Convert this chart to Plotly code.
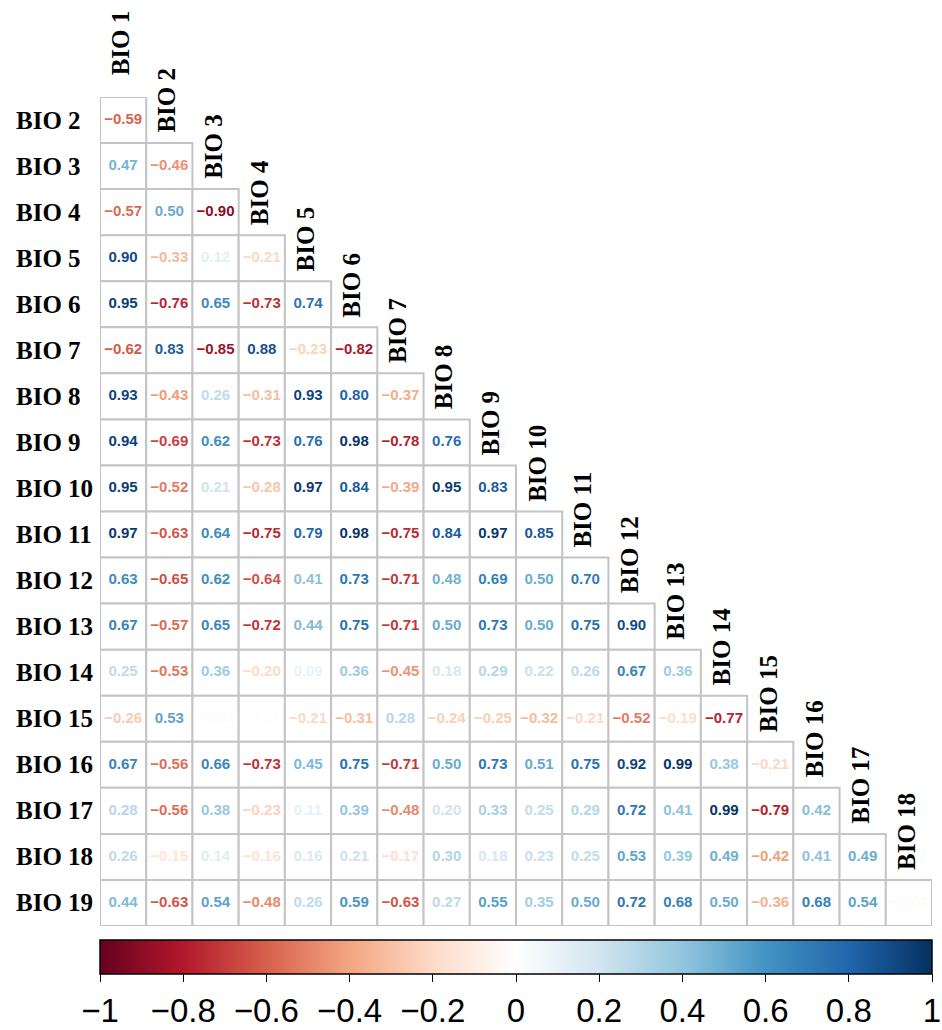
import plotly.graph_objects as go
from plotly.colors import sample_colorscale

# Bioclimatic variables
row_labels = [f"BIO {i}" for i in range(2, 20)]
col_labels = [f"BIO {i}" for i in range(1, 19)]

# Lower-triangle Pearson correlations (row BIO k vs BIO 1 .. BIO k-1)
corr_rows = [
    [-0.59],
    [0.47, -0.46],
    [-0.57, 0.50, -0.90],
    [0.90, -0.33, 0.12, -0.21],
    [0.95, -0.76, 0.65, -0.73, 0.74],
    [-0.62, 0.83, -0.85, 0.88, -0.23, -0.82],
    [0.93, -0.43, 0.26, -0.31, 0.93, 0.80, -0.37],
    [0.94, -0.69, 0.62, -0.73, 0.76, 0.98, -0.78, 0.76],
    [0.95, -0.52, 0.21, -0.28, 0.97, 0.84, -0.39, 0.95, 0.83],
    [0.97, -0.63, 0.64, -0.75, 0.79, 0.98, -0.75, 0.84, 0.97, 0.85],
    [0.63, -0.65, 0.62, -0.64, 0.41, 0.73, -0.71, 0.48, 0.69, 0.50, 0.70],
    [0.67, -0.57, 0.65, -0.72, 0.44, 0.75, -0.71, 0.50, 0.73, 0.50, 0.75, 0.90],
    [0.25, -0.53, 0.36, -0.20, 0.09, 0.36, -0.45, 0.18, 0.29, 0.22, 0.26, 0.67, 0.36],
    [-0.26, 0.53, -0.03, -0.01, -0.21, -0.31, 0.28, -0.24, -0.25, -0.32, -0.21, -0.52, -0.19, -0.77],
    [0.67, -0.56, 0.66, -0.73, 0.45, 0.75, -0.71, 0.50, 0.73, 0.51, 0.75, 0.92, 0.99, 0.38, -0.21],
    [0.28, -0.56, 0.38, -0.23, 0.11, 0.39, -0.48, 0.20, 0.33, 0.25, 0.29, 0.72, 0.41, 0.99, -0.79, 0.42],
    [0.26, -0.15, 0.14, -0.16, 0.16, 0.21, -0.17, 0.30, 0.18, 0.23, 0.25, 0.53, 0.39, 0.49, -0.42, 0.41, 0.49],
    [0.44, -0.63, 0.54, -0.48, 0.26, 0.59, -0.63, 0.27, 0.55, 0.35, 0.50, 0.72, 0.68, 0.50, -0.36, 0.68, 0.54, -0.02],
]

colorbar_ticks = [-1, -0.8, -0.6, -0.4, -0.2, 0, 0.2, 0.4, 0.6, 0.8, 1]

rdbu = ["#67001F", "#B2182B", "#D6604D", "#F4A582", "#FDDBC7", "#FFFFFF",
        "#D1E5F0", "#92C5DE", "#4393C3", "#2166AC", "#053061"]
colorscale = [[i / (len(rdbu) - 1), c] for i, c in enumerate(rdbu)]


def fmt(v):
    s = f"{abs(v):.2f}"
    return ("\u2212" + s) if v < 0 else s


def fmt_tick(v):
    s = f"{abs(v):g}"
    return ("\u2212" + s) if v < 0 else s


n = len(row_labels)
xs, ys, texts, colors, shapes = [], [], [], [], []
for r, vals in enumerate(corr_rows):
    for c, v in enumerate(vals):
        xs.append(c + 0.5)
        ys.append(r + 0.5)
        texts.append(fmt(v))
        colors.append(sample_colorscale(colorscale, [(v + 1) / 2])[0])
        shapes.append(dict(type="rect", xref="x", yref="y",
                           x0=c, x1=c + 1, y0=r, y1=r + 1,
                           line=dict(color="#C4C4C4", width=2),
                           fillcolor="white", layer="below"))

fig = go.Figure()

fig.add_trace(go.Scatter(
    x=xs, y=ys, mode="text", text=texts,
    textfont=dict(family="Liberation Sans, Arial, sans-serif", size=15,
                  color=colors, weight="bold"),
    hoverinfo="skip", showlegend=False,
))

# colour key
fig.add_trace(go.Scatter(
    x=[0.5, 0.5], y=[0.5, 0.5], mode="markers",
    marker=dict(size=0.1, opacity=0, color=[-1, 1], cmin=-1, cmax=1,
                colorscale=colorscale, showscale=True,
                colorbar=dict(
                    orientation="h", x=0.5, xanchor="center", len=1.0,
                    lenmode="fraction", thickness=34, thicknessmode="pixels",
                    y=-0.017, yanchor="top", xpad=0, ypad=0,
                    outlinewidth=1.5, outlinecolor="black",
                    ticks="outside", ticklen=8, tickwidth=1.2, tickcolor="black",
                    tickvals=colorbar_ticks,
                    ticktext=[fmt_tick(t) for t in colorbar_ticks],
                    tickfont=dict(family="Liberation Sans Narrow, Arial Narrow, Liberation Sans, Arial",
                                  size=33, color="black"),
                )),
    hoverinfo="skip", showlegend=False,
))

label_font = dict(family="Liberation Serif, Times New Roman, serif", size=25, color="black")
annotations = []
for r, lab in enumerate(row_labels):
    annotations.append(dict(
        xref="paper", yref="y", x=-0.103, y=r + 0.5, text=f"<b>{lab}</b>",
        showarrow=False, xanchor="left", yanchor="middle", font=label_font,
    ))
for c, lab in enumerate(col_labels):
    annotations.append(dict(
        xref="x", yref="y", x=c + 0.45, y=c, text=f"<b>{lab}</b>",
        showarrow=False, xanchor="center", yanchor="bottom", textangle=-90,
        yshift=20 if c == 0 else 8, font=label_font,
    ))

fig.update_layout(
    width=942, height=1030,
    margin=dict(l=100, r=10, t=97, b=104, autoexpand=False),
    paper_bgcolor="white", plot_bgcolor="white",
    xaxis=dict(range=[0, n], visible=False, fixedrange=True),
    yaxis=dict(range=[n, 0], visible=False, fixedrange=True),
    shapes=shapes, annotations=annotations,
)

fig.write_html("out.html")
